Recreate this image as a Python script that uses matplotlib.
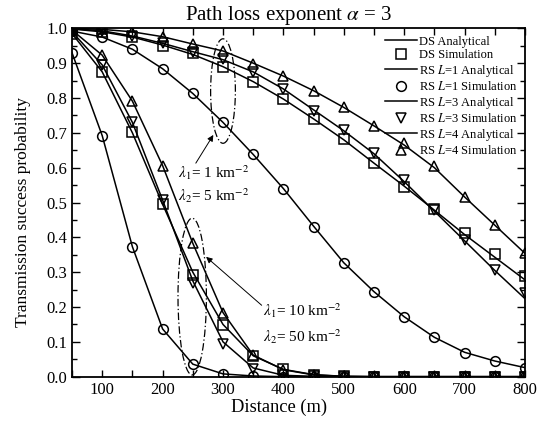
import numpy as np
import matplotlib
matplotlib.use('Agg')
import matplotlib.pyplot as plt
from matplotlib.patches import Ellipse
from matplotlib.ticker import MultipleLocator

plt.rcParams['font.family'] = 'Liberation Serif'
plt.rcParams['mathtext.fontset'] = 'stix'

# distance (m)
d = [50, 100, 150, 200, 250, 300, 350, 400, 450, 500, 550, 600, 650, 700, 750, 800]

# lambda1 = 1 km^-2, lambda2 = 5 km^-2
ds_lo_ana = [0.998, 0.99, 0.975, 0.952, 0.925, 0.890, 0.847, 0.797, 0.740, 0.680, 0.613, 0.547, 0.478, 0.408, 0.343, 0.278]
ds_lo_sim = [0.998, 0.99, 0.975, 0.949, 0.928, 0.890, 0.845, 0.796, 0.739, 0.681, 0.614, 0.545, 0.480, 0.412, 0.351, 0.289]
l1_lo_ana = [0.992, 0.975, 0.940, 0.884, 0.813, 0.730, 0.638, 0.540, 0.432, 0.327, 0.244, 0.172, 0.113, 0.070, 0.045, 0.026]
l1_lo_sim = [0.992, 0.976, 0.941, 0.883, 0.813, 0.730, 0.639, 0.540, 0.430, 0.325, 0.244, 0.172, 0.113, 0.069, 0.045, 0.026]
l3_lo_ana = [0.999, 0.993, 0.978, 0.957, 0.933, 0.910, 0.875, 0.826, 0.766, 0.706, 0.640, 0.560, 0.475, 0.390, 0.305, 0.224]
l3_lo_sim = [0.999, 0.993, 0.978, 0.957, 0.933, 0.911, 0.875, 0.825, 0.764, 0.708, 0.642, 0.565, 0.478, 0.392, 0.306, 0.239]
l4_lo_ana = [1.0, 0.997, 0.990, 0.976, 0.955, 0.935, 0.900, 0.863, 0.821, 0.773, 0.720, 0.665, 0.600, 0.516, 0.435, 0.354]
l4_lo_sim = [1.0, 0.997, 0.990, 0.976, 0.955, 0.936, 0.899, 0.863, 0.821, 0.773, 0.720, 0.670, 0.605, 0.516, 0.435, 0.354]

# lambda1 = 10 km^-2, lambda2 = 50 km^-2
ds_hi_ana = [0.985, 0.875, 0.700, 0.495, 0.300, 0.150, 0.060, 0.021, 0.006, 0.001, 0, 0, 0, 0, 0, 0]
ds_hi_sim = [0.985, 0.875, 0.701, 0.495, 0.292, 0.148, 0.059, 0.021, 0.005, 0.001, 0, 0, 0, 0, 0, 0]
l1_hi_ana = [0.930, 0.692, 0.373, 0.137, 0.036, 0.008, 0.002, 0, 0, 0, 0, 0, 0, 0, 0, 0]
l1_hi_sim = [0.930, 0.692, 0.373, 0.137, 0.036, 0.008, 0.002, 0, 0, 0, 0, 0, 0, 0, 0, 0]
l3_hi_ana = [0.990, 0.895, 0.730, 0.507, 0.275, 0.100, 0.025, 0.004, 0.001, 0, 0, 0, 0, 0, 0, 0]
l3_hi_sim = [0.990, 0.895, 0.730, 0.507, 0.268, 0.094, 0.021, 0.004, 0.001, 0, 0, 0, 0, 0, 0, 0]
l4_hi_ana = [0.995, 0.923, 0.791, 0.606, 0.383, 0.184, 0.062, 0.020, 0.005, 0.001, 0, 0, 0, 0, 0, 0]
l4_hi_sim = [0.995, 0.923, 0.791, 0.606, 0.383, 0.184, 0.062, 0.020, 0.005, 0.001, 0, 0, 0, 0, 0, 0]

fig = plt.figure(figsize=(5.48, 4.23), dpi=100)
ax = fig.add_axes([0.1314, 0.1095, 0.8266, 0.8235])

mk = dict(ls='none', mfc='none', mec='black', ms=7, mew=1.1)
ln = dict(color='black', lw=1.1)

series = [
    ('DS', 's', ds_lo_ana, ds_lo_sim, ds_hi_ana, ds_hi_sim),
    ('RS $L$=1', 'o', l1_lo_ana, l1_lo_sim, l1_hi_ana, l1_hi_sim),
    ('RS $L$=3', 'v', l3_lo_ana, l3_lo_sim, l3_hi_ana, l3_hi_sim),
    ('RS $L$=4', '^', l4_lo_ana, l4_lo_sim, l4_hi_ana, l4_hi_sim),
]
for name, m, lo_a, lo_s, hi_a, hi_s in series:
    ax.plot(d, lo_a, label=name + ' Analytical', **ln)
    ax.plot(d, lo_s, marker=m, label=name + ' Simulation', **mk)
    ax.plot(d, hi_a, **ln)
    ax.plot(d, hi_s, marker=m, **mk)

# ellipses + annotations
ax.add_patch(Ellipse((300, 0.82), 41, 0.30, fill=False, ls=(0, (6, 2, 1, 2)), lw=0.9))
ax.add_patch(Ellipse((249, 0.23), 47, 0.45, fill=False, ls=(0, (6, 2, 1, 2)), lw=0.9))
arr = dict(arrowstyle='-|>', lw=0.7, color='black', mutation_scale=9, shrinkA=0, shrinkB=0)
ax.annotate('', xy=(284, 0.694), xytext=(255, 0.613), arrowprops=arr)
ax.annotate('', xy=(272, 0.344), xytext=(364, 0.205), arrowprops=arr)
ax.text(225, 0.585, r'$\lambda_1$= 1 km$^{-2}$', fontsize=11, va='center')
ax.text(225, 0.521, r'$\lambda_2$= 5 km$^{-2}$', fontsize=11, va='center')
ax.text(367, 0.19, r'$\lambda_1$= 10 km$^{-2}$', fontsize=11, va='center')
ax.text(367, 0.115, r'$\lambda_2$= 50 km$^{-2}$', fontsize=11, va='center')

ax.set_xlim(50, 800)
ax.set_ylim(0, 1.0)
ax.xaxis.set_major_locator(MultipleLocator(100))
ax.xaxis.set_minor_locator(MultipleLocator(50))
ax.yaxis.set_major_locator(MultipleLocator(0.1))
ax.yaxis.set_minor_locator(MultipleLocator(0.05))
ax.yaxis.set_major_formatter(plt.FuncFormatter(lambda v, p: '%.1f' % v))
ax.tick_params(which='both', direction='in', top=True, right=True, labelsize=12, width=1)
ax.tick_params(axis='y', which='major', length=6)
ax.tick_params(axis='y', which='minor', length=3.5)
ax.tick_params(axis='x', which='both', length=5)
for s in ax.spines.values():
    s.set_linewidth(1.3)

ax.set_xlabel('Distance (m)', fontsize=13.3)
ax.xaxis.set_label_coords(0.457, -0.062)
ax.set_ylabel('Transmission success probability', fontsize=12.5)
ax.yaxis.set_label_coords(-0.09, 0.473)
ax.set_title(r'Path loss exponent $\alpha$ = 3', fontsize=15, x=0.479, pad=6)

ax.legend(loc='upper right', bbox_to_anchor=(1.0, 1.0), frameon=False, fontsize=9,
          handlelength=2.6, handletextpad=0.15, labelspacing=0.12, borderaxespad=0.2)

fig.savefig('out.png', dpi=100)
